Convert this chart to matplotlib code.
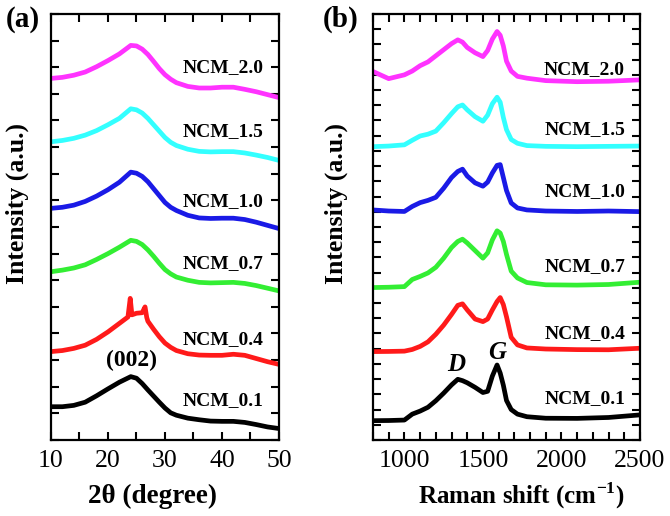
import matplotlib
matplotlib.use('Agg')
import matplotlib.pyplot as plt
from matplotlib.ticker import MultipleLocator

plt.rcParams['font.family'] = ['Liberation Serif', 'DejaVu Serif']
plt.rcParams['mathtext.fontset'] = 'custom'
plt.rcParams['mathtext.rm'] = 'Liberation Serif'
plt.rcParams['mathtext.bf'] = 'Liberation Serif:bold'

# ---- (a) XRD data, stacked in axis units ----
samples = ['NCM_0.1', 'NCM_0.4', 'NCM_0.7', 'NCM_1.0', 'NCM_1.5', 'NCM_2.0']
colors = ['#000000', '#ff1a1a', '#33ee33', '#1a1ae6', '#33ffff', '#ff33ff']

two_theta = [10, 12, 14, 16, 18, 20, 22, 24, 25, 26, 27, 28, 29, 30, 31, 32,
             34, 36, 38, 40, 42, 44, 46, 48, 50]
xrd_01 = [1.25, 1.25, 1.30, 1.42, 1.66, 1.92, 2.17, 2.38, 2.32, 2.12, 1.88, 1.65,
          1.42, 1.20, 1.02, 0.93, 0.82, 0.76, 0.71, 0.70, 0.70, 0.66, 0.58, 0.49, 0.43]
two_theta_04 = [10, 12, 14, 16, 18, 20, 22, 23.5, 23.9, 24.2, 25, 26, 26.5, 26.8,
                27, 28, 29, 30, 31, 32, 34, 36, 38, 40, 42, 44, 46, 48, 50]
xrd_04 = [3.32, 3.36, 3.44, 3.56, 3.78, 4.06, 4.38, 4.62, 5.32, 4.70, 4.76, 4.78,
          5.00, 4.60, 4.46, 4.16, 3.88, 3.64, 3.48, 3.36, 3.24, 3.19, 3.18, 3.18,
          3.22, 3.18, 3.06, 2.94, 2.84]
xrd_07 = [6.32, 6.38, 6.46, 6.58, 6.78, 7.00, 7.24, 7.50, 7.46, 7.34, 7.14, 6.90,
          6.64, 6.40, 6.24, 6.12, 6.00, 5.92, 5.90, 5.91, 5.92, 5.88, 5.80, 5.70, 5.60]
xrd_10 = [8.70, 8.74, 8.82, 8.96, 9.16, 9.40, 9.68, 10.06, 10.02, 9.90, 9.70, 9.44,
          9.18, 8.92, 8.74, 8.62, 8.44, 8.34, 8.32, 8.33, 8.33, 8.28, 8.18, 8.06, 7.94]
xrd_15 = [11.20, 11.25, 11.33, 11.45, 11.62, 11.84, 12.08, 12.44, 12.40, 12.28, 12.08,
          11.84, 11.60, 11.36, 11.18, 11.06, 10.92, 10.84, 10.82, 10.83, 10.83, 10.78,
          10.70, 10.61, 10.50]
xrd_20 = [13.58, 13.62, 13.70, 13.82, 14.02, 14.25, 14.50, 14.82, 14.80, 14.68, 14.48,
          14.22, 13.95, 13.72, 13.55, 13.42, 13.28, 13.22, 13.22, 13.25, 13.25, 13.17,
          13.08, 12.97, 12.86]
xrd_x = [two_theta, two_theta_04, two_theta, two_theta, two_theta, two_theta]
xrd_y = [xrd_01, xrd_04, xrd_07, xrd_10, xrd_15, xrd_20]
xrd_label_y = [1.50, 3.76, 6.64, 8.95, 11.58, 13.98]

# ---- (b) Raman data ----
shift = [800, 900, 1000, 1050, 1100, 1150, 1200, 1250, 1300, 1340, 1370, 1400, 1450,
         1500, 1530, 1560, 1590, 1610, 1630, 1650, 1680, 1720, 1780, 1900, 2100, 2300, 2500]
ram_01 = [1.27, 1.28, 1.31, 1.70, 1.90, 2.15, 2.58, 3.08, 3.62, 3.99, 3.90, 3.76, 3.46,
          3.12, 3.20, 4.20, 4.93, 4.40, 3.60, 2.60, 2.00, 1.70, 1.53, 1.43, 1.42, 1.48, 1.65]
ram_04 = [5.81, 5.82, 5.84, 5.95, 6.15, 6.45, 6.95, 7.55, 8.25, 8.85, 8.95, 8.55, 7.95,
          7.78, 7.95, 8.55, 9.10, 9.36, 8.90, 8.10, 6.75, 6.25, 6.05, 5.98, 5.94, 5.93, 6.03]
ram_07 = [10.02, 10.04, 10.08, 10.55, 10.75, 10.98, 11.35, 11.95, 12.65, 13.05, 13.20,
          12.95, 12.45, 11.95, 12.30, 13.15, 13.75, 13.60, 13.05, 12.20, 11.10, 10.65,
          10.35, 10.20, 10.18, 10.22, 10.37]
ram_10 = [15.12, 15.05, 15.02, 15.35, 15.60, 15.75, 15.95, 16.55, 17.25, 17.65, 17.80,
          17.35, 16.90, 16.68, 16.95, 17.55, 18.05, 18.10, 17.25, 16.40, 15.58, 15.25,
          15.12, 15.05, 15.02, 15.05, 15.01]
ram_15 = [19.28, 19.32, 19.40, 19.70, 19.98, 20.10, 20.30, 20.85, 21.45, 21.90, 22.02,
          21.70, 21.25, 20.95, 21.35, 22.10, 22.53, 22.20, 21.20, 20.40, 19.75, 19.50,
          19.35, 19.30, 19.28, 19.30, 19.32]
ram_20 = [24.22, 23.75, 24.00, 24.25, 24.60, 24.85, 25.25, 25.65, 26.05, 26.30, 26.15,
          25.80, 25.45, 25.20, 25.60, 26.35, 26.85, 26.60, 25.90, 24.90, 24.25, 23.90,
          23.78, 23.62, 23.55, 23.58, 23.67]
ram_y = [ram_01, ram_04, ram_07, ram_10, ram_15, ram_20]
ram_label_y = [2.74, 7.02, 11.40, 16.33, 20.38, 24.33]

fig = plt.figure(figsize=(6.7, 5.16), dpi=100)
ax1 = fig.add_axes([0.0761, 0.1473, 0.3403, 0.8256])
ax2 = fig.add_axes([0.5567, 0.1473, 0.3985, 0.8256])


def style_axis(ax):
    for s in ax.spines.values():
        s.set_linewidth(1.6)
    ax.tick_params(which='both', direction='in', top=True, right=True,
                   length=6, width=1.5, labelsize=18.5, pad=7)
    ax.tick_params(axis='y', labelleft=False)


# panel (a)
for xs, ys, c in zip(xrd_x, xrd_y, colors):
    ax1.plot(xs, ys, color=c, lw=3.4, solid_joinstyle='round')
for name, ly in zip(samples, xrd_label_y):
    ax1.text(47.3, ly, name, ha='right', va='center', fontsize=14, fontweight='bold')
ax1.text(24.1, 3.0, '(002)', ha='center', va='center', fontsize=17, fontweight='bold')
ax1.set_xlim(10, 50)
ax1.set_ylim(0, 16)
ax1.xaxis.set_major_locator(MultipleLocator(10))
ax1.xaxis.set_minor_locator(MultipleLocator(5))
ax1.yaxis.set_major_locator(MultipleLocator(1))
style_axis(ax1)
ax1.set_xlabel('2θ (degree)', fontsize=19.5, fontweight='bold', va='center')
ax1.xaxis.set_label_coords(0.445, -0.132)
ax1.set_ylabel('Intensity (a.u.)', fontsize=18.5, fontweight='bold', va='center')
ax1.yaxis.set_label_coords(-0.149, 0.556)

# panel (b)
for ys, c in zip(ram_y, colors):
    ax2.plot(shift, ys, color=c, lw=3.4, solid_joinstyle='round')
for name, ly in zip(samples, ram_label_y):
    ax2.text(2405, ly, name, ha='right', va='center', fontsize=14, fontweight='bold')
ax2.text(1331, 4.93, 'D', ha='center', va='center', fontsize=18,
         fontweight='bold', fontstyle='italic')
ax2.text(1592, 5.75, 'G', ha='center', va='center', fontsize=18,
         fontweight='bold', fontstyle='italic')
ax2.set_xlim(800, 2500)
ax2.set_ylim(0, 28)
ax2.xaxis.set_major_locator(MultipleLocator(500))
ax2.xaxis.set_minor_locator(MultipleLocator(100))
ax2.yaxis.set_major_locator(MultipleLocator(1))
style_axis(ax2)
ax2.set_xlabel(r'Raman shift (cm$^{\mathbf{-1}}$)', fontsize=18, fontweight='bold', va='center')
ax2.xaxis.set_label_coords(0.554, -0.132)
ax2.set_ylabel('Intensity (a.u.)', fontsize=18.5, fontweight='bold', va='center')
ax2.yaxis.set_label_coords(-0.139, 0.556)

fig.text(0.034, 0.963, '(a)', ha='center', va='center', fontsize=21, fontweight='bold')
fig.text(0.508, 0.963, '(b)', ha='center', va='center', fontsize=21, fontweight='bold')

fig.savefig('out.png', dpi=100)
